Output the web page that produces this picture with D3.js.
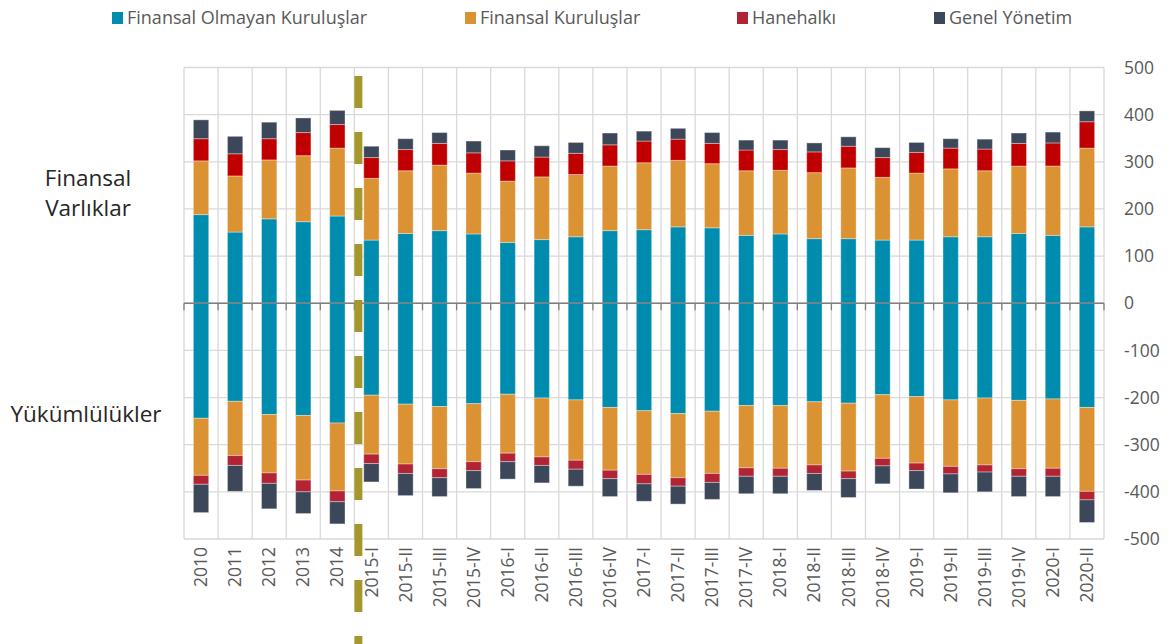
<!DOCTYPE html>
<html><head><meta charset="utf-8">
<script src="https://cdn.jsdelivr.net/npm/d3@7"></script>
<style>
html,body{margin:0;padding:0;background:#fff;}
svg{display:block;font-family:"Open Sans",sans-serif;}
</style></head>
<body><svg id="chart" width="1175" height="644"></svg>
<script>
const categories = ["2010","2011","2012","2013","2014","2015-I","2015-II","2015-III","2015-IV","2016-I","2016-II","2016-III","2016-IV","2017-I","2017-II","2017-III","2017-IV","2018-I","2018-II","2018-III","2018-IV","2019-I","2019-II","2019-III","2019-IV","2020-I","2020-II"];
const seriesNames = ["Finansal Olmayan Kuruluşlar","Finansal Kuruluşlar","Hanehalkı","Genel Yönetim"];

// Assets (positive)
const nfcAssets = [188,151,179,173,185,134,148,154,147,129,135,141,154,156,162,160,144,147,137,137,134,134,141,141,148,144,162];
const fcAssets  = [114,119,125,140,144,131,133,139,129,130,133,132,137,142,141,136,137,135,140,150,133,142,144,140,143,147,167];
const hhAssets  = [47,47,45,49,50,44,45,46,43,43,42,45,45,46,45,43,44,44,44,46,42,44,44,46,48,49,56];
const govAssets = [40,37,35,31,30,24,23,23,25,23,24,23,25,21,23,23,21,20,19,20,21,21,20,21,22,23,23];

// Liabilities (negative)
const nfcLiab = [-244,-208,-236,-238,-254,-195,-214,-219,-213,-193,-201,-205,-221,-228,-234,-229,-217,-217,-209,-212,-194,-198,-205,-201,-206,-203,-221];
const fcLiab  = [-121,-115,-124,-137,-144,-125,-127,-132,-123,-125,-125,-128,-133,-135,-136,-132,-132,-133,-134,-144,-135,-141,-141,-142,-145,-147,-178];
const hhLiab  = [-19,-21,-22,-25,-23,-20,-20,-19,-19,-18,-18,-19,-18,-20,-18,-19,-18,-17,-18,-16,-16,-16,-16,-15,-16,-17,-18];
const govLiab = [-60,-55,-54,-46,-47,-39,-47,-40,-38,-37,-37,-36,-38,-37,-38,-36,-37,-37,-36,-40,-38,-39,-40,-42,-43,-43,-48];

const yTicks = [500,400,300,200,100,0,-100,-200,-300,-400,-500];
const sideLabels = {assets:["Finansal","Varlıklar"], liab:["Yükümlülükler"]};
const separatorAfter = "2014";

const assetColors = ["#008cae","#db9232","#c00000","#3d475a"];
const liabColors  = ["#008cae","#db9232","#b22433","#3d475a"];
const legendColors = ["#008cae","#db9232","#b22433","#3d475a"];

const svg = d3.select("#chart");
const x = d3.scaleBand().domain(categories).range([184,1104]).paddingInner(0.55).paddingOuter(0.275);
const y = d3.scaleLinear().domain([-500,500]).range([539,67.5]);

const keys = ["a","b","c","d"];
const assetRows = categories.map((c,i)=>({cat:c,a:nfcAssets[i],b:fcAssets[i],c:hhAssets[i],d:govAssets[i]}));
const liabRows  = categories.map((c,i)=>({cat:c,a:nfcLiab[i],b:fcLiab[i],c:hhLiab[i],d:govLiab[i]}));
const stack = d3.stack().keys(keys).offset(d3.stackOffsetDiverging);
const assetStack = stack(assetRows);
const liabStack = stack(liabRows);

// gridlines
const grid = svg.append("g");
grid.selectAll("line.h").data(yTicks).join("line")
  .attr("x1",x.range()[0]).attr("x2",x.range()[1])
  .attr("y1",d=>y(d)).attr("y2",d=>y(d))
  .attr("stroke","#d9d9d9").attr("stroke-width",1.3);
const bounds = d3.range(categories.length+1).map(i=>x.range()[0]+i*x.step());
grid.selectAll("line.v").data(bounds).join("line")
  .attr("x1",d=>d).attr("x2",d=>d)
  .attr("y1",y(500)).attr("y2",y(-500))
  .attr("stroke","#d9d9d9").attr("stroke-width",1.3);

function drawStack(st, colors){
  const g = svg.append("g");
  st.forEach((layer,k)=>{
    g.append("g").selectAll("rect").data(layer).join("rect")
      .attr("x",d=>x(d.data.cat))
      .attr("width",x.bandwidth())
      .attr("y",d=>y(Math.max(d[0],d[1])))
      .attr("height",d=>Math.abs(y(d[0])-y(d[1])))
      .attr("fill",colors[k])
      .attr("stroke","#ffffff").attr("stroke-opacity",0.35).attr("stroke-width",1);
  });
}
drawStack(assetStack, assetColors);
drawStack(liabStack, liabColors);

// zero axis
svg.append("line").attr("x1",x.range()[0]).attr("x2",x.range()[1])
  .attr("y1",y(0)).attr("y2",y(0)).attr("stroke","#7f7f7f").attr("stroke-width",1.5);
svg.append("g").selectAll("line").data(bounds).join("line")
  .attr("x1",d=>d).attr("x2",d=>d).attr("y1",y(0)).attr("y2",y(0)+7)
  .attr("stroke","#7f7f7f").attr("stroke-width",1.3);

// separator dashed line
const sepX = x.range()[0] + (categories.indexOf(separatorAfter)+1)*x.step() + 4;
svg.append("line").attr("x1",sepX).attr("x2",sepX).attr("y1",76).attr("y2",650)
  .attr("stroke","#a5972b").attr("stroke-width",8).attr("stroke-dasharray","32 24");

// right axis labels
svg.append("g").selectAll("text").data(yTicks).join("text")
  .attr("x",1124).attr("y",d=>y(d)).attr("dy","0.35em")
  .attr("font-size",17.5).attr("fill","#595959").text(d=>d);

// x labels
svg.append("g").selectAll("text").data(categories).join("text")
  .attr("transform",d=>`translate(${x(d)+x.bandwidth()/2},547) rotate(-90)`)
  .attr("text-anchor","end").attr("dy","0.35em")
  .attr("font-size",17.5).attr("fill","#595959").text(d=>d);

// side labels
svg.append("g").selectAll("text").data(sideLabels.assets).join("text")
  .attr("x",88).attr("y",(d,i)=>186+i*30).attr("text-anchor","middle")
  .attr("font-size",22.5).attr("fill","#262626").text(d=>d);
svg.append("text").attr("x",86).attr("y",422).attr("text-anchor","middle")
  .attr("font-size",22.5).attr("fill","#262626").text(sideLabels.liab[0]);

// legend
const legendX = [112,465,737,934];
const lg = svg.append("g");
seriesNames.forEach((n,i)=>{
  lg.append("rect").attr("x",legendX[i]).attr("y",12).attr("width",11).attr("height",12).attr("fill",legendColors[i]);
  lg.append("text").attr("x",legendX[i]+15).attr("y",24).attr("font-size",18).attr("fill","#595959").text(n);
});
</script></body></html>
